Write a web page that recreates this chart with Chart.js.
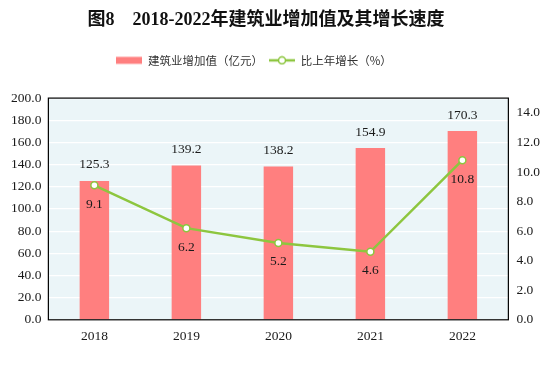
<!DOCTYPE html>
<html>
<head>
<meta charset="utf-8">
<script src="https://cdn.jsdelivr.net/npm/chart.js@4/dist/chart.umd.min.js"></script>
<style>
  html, body { margin: 0; padding: 0; background: #fff; }
  #wrap { width: 544px; height: 368px; }
</style>
</head>
<body>
<div id="wrap"><canvas id="chart" width="544" height="368"></canvas></div>
<script>
// 数据
const years = ["2018", "2019", "2020", "2021", "2022"];
const addedValue = [125.3, 139.2, 138.2, 154.9, 170.3];
const growthRate = [9.1, 6.2, 5.2, 4.6, 10.8];

const barColor = "#FF7F7F";
const lineColor = "#8DC63F";
const serif = "'Liberation Serif', 'Noto Sans CJK SC', serif";

// 图例小图标
function legendIcon(kind) {
  const c = document.createElement("canvas");
  c.width = 26; c.height = 10;
  const g = c.getContext("2d");
  if (kind === "bar") {
    g.fillStyle = barColor;
    g.fillRect(0, 1.5, 26, 7);
  } else {
    g.strokeStyle = lineColor;
    g.lineWidth = 2.5;
    g.beginPath(); g.moveTo(0, 5); g.lineTo(26, 5); g.stroke();
    g.fillStyle = "#fff";
    g.lineWidth = 1.5;
    g.beginPath(); g.arc(13, 5, 3.5, 0, Math.PI * 2); g.fill(); g.stroke();
  }
  return c;
}

// 图例下方留白，标题和图例略向左
const boxTweak = {
  id: "boxTweak",
  beforeInit(chart) {
    const fit = chart.legend.fit;
    chart.legend.fit = function () {
      fit.call(this);
      this.height += 22;
    };
  },
  afterLayout(chart) {
    chart.legend.left -= 22;
    chart.legend.right -= 22;
    chart.titleBlock.left -= 10;
    chart.titleBlock.right -= 10;
  }
};

// 绘图区背景和边框
const plotFrame = {
  id: "plotFrame",
  beforeDraw(chart) {
    const { ctx, chartArea: a } = chart;
    ctx.save();
    ctx.fillStyle = "#EBF5F8";
    ctx.fillRect(a.left, a.top, a.right - a.left, a.bottom - a.top);
    ctx.restore();
  },
  afterDatasetsDraw(chart) {
    const { ctx, chartArea: a } = chart;
    ctx.save();
    ctx.strokeStyle = "#000";
    ctx.lineWidth = 1.2;
    ctx.strokeRect(a.left, a.top, a.right - a.left, a.bottom - a.top);
    ctx.restore();
  }
};

// 数值标签
const valueLabels = {
  id: "valueLabels",
  afterDraw(chart) {
    const ctx = chart.ctx;
    ctx.save();
    ctx.font = "13.5px " + serif;
    ctx.fillStyle = "#1a1a1a";
    ctx.textAlign = "center";
    ctx.textBaseline = "middle";
    chart.getDatasetMeta(1).data.forEach((bar, i) => {
      ctx.fillText(addedValue[i].toFixed(1), bar.x, bar.y - 16);
    });
    chart.getDatasetMeta(0).data.forEach((pt, i) => {
      ctx.fillText(growthRate[i].toFixed(1), pt.x, pt.y + 19);
    });
    ctx.restore();
  }
};

new Chart(document.getElementById("chart"), {
  data: {
    labels: years,
    datasets: [
      {
        type: "line",
        label: "比上年增长（%）",
        data: growthRate,
        yAxisID: "y1",
        borderColor: lineColor,
        borderWidth: 2.5,
        pointRadius: 3.5,
        pointBorderWidth: 1.5,
        pointBackgroundColor: "#fff",
        pointBorderColor: lineColor,
        tension: 0,
        order: 0
      },
      {
        type: "bar",
        label: "建筑业增加值（亿元）",
        data: addedValue,
        yAxisID: "y",
        backgroundColor: barColor,
        barPercentage: 0.32,
        categoryPercentage: 1,
        order: 1
      }
    ]
  },
  options: {
    responsive: false,
    animation: false,
    layout: { padding: { left: 4, right: -4, top: 0, bottom: 14 } },
    plugins: {
      title: {
        display: true,
        text: "图8　2018-2022年建筑业增加值及其增长速度",
        color: "#111",
        font: { family: serif, size: 18, weight: "bold" },
        padding: { top: 10, bottom: 17 }
      },
      legend: {
        display: true,
        labels: {
          usePointStyle: true,
          pointStyleWidth: 26,
          color: "#333",
          font: { family: "'Noto Sans CJK SC', sans-serif", size: 11.5 },
          padding: 6,
          generateLabels(chart) {
            return [
              { text: "建筑业增加值（亿元）", pointStyle: legendIcon("bar"), datasetIndex: 1, fontColor: "#333", lineWidth: 0, strokeStyle: "transparent" },
              { text: "比上年增长（%）", pointStyle: legendIcon("line"), datasetIndex: 0, fontColor: "#333", lineWidth: 0, strokeStyle: "transparent" }
            ];
          }
        }
      },
      tooltip: { enabled: false }
    },
    scales: {
      x: {
        grid: { display: false, drawTicks: false },
        border: { display: false },
        ticks: { color: "#1a1a1a", font: { family: serif, size: 13.5 }, padding: 9 }
      },
      y: {
        position: "left",
        min: 0,
        max: 200,
        ticks: {
          stepSize: 20,
          color: "#1a1a1a",
          font: { family: serif, size: 13.5 },
          padding: 7,
          callback: v => v.toFixed(1)
        },
        grid: { color: "#fff", lineWidth: 1.2, drawTicks: false },
        border: { display: false }
      },
      y1: {
        position: "right",
        min: 0,
        max: 15,
        ticks: {
          stepSize: 2,
          includeBounds: false,
          color: "#1a1a1a",
          font: { family: serif, size: 13.5 },
          padding: 8,
          callback: v => v.toFixed(1)
        },
        grid: { display: false, drawTicks: false },
        border: { display: false }
      }
    }
  },
  plugins: [boxTweak, plotFrame, valueLabels]
});
</script>
</body>
</html>
